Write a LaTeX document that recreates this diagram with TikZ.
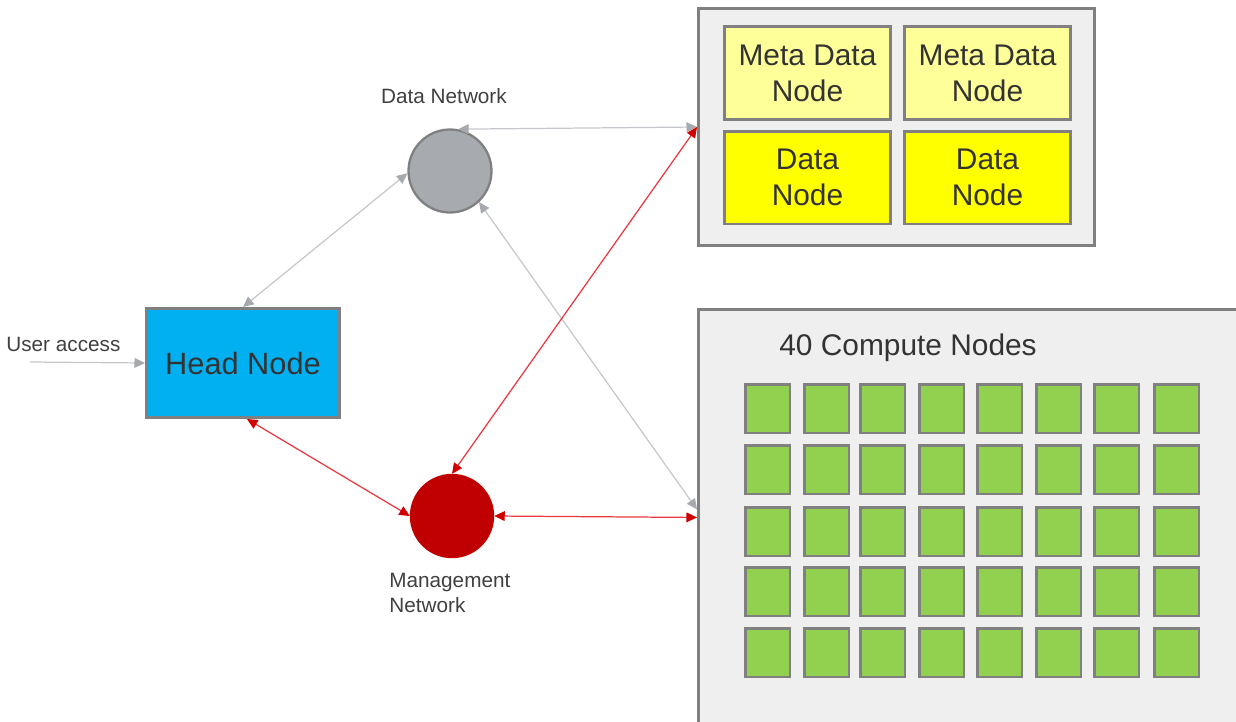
\documentclass[tikz,border=0pt]{standalone}
\usepackage{fontspec}
\setmainfont{Liberation Sans}
\usetikzlibrary{arrows.meta,calc}
\definecolor{boxgray}{HTML}{EFEFEF}
\definecolor{edgegray}{HTML}{808080}
\definecolor{metayellow}{HTML}{FFFF99}
\definecolor{datayellow}{HTML}{FFFF00}
\definecolor{headblue}{HTML}{00B0F0}
\definecolor{computegreen}{HTML}{92D050}
\definecolor{netgray}{HTML}{A7ABAF}
\definecolor{mgmtred}{HTML}{C00000}
\definecolor{linkgray}{HTML}{C4C8CC}
\definecolor{tipgray}{HTML}{A6AAAE}
\definecolor{linkred}{HTML}{E8383D}
\definecolor{tipred}{HTML}{D00000}
\definecolor{textdark}{HTML}{333333}
\definecolor{textlabel}{HTML}{404040}
\begin{document}
\begin{tikzpicture}[x=0.02cm,y=-0.02cm,
  bigtext/.style={font=\fontsize{17}{20.5}\selectfont, text=textdark, align=center},
  smalltext/.style={font=\fontsize{11.8}{14}\selectfont, text=textlabel, align=left, inner sep=0pt},
  panel/.style={draw=edgegray, line width=1.7pt, fill=boxgray, rectangle, inner sep=0pt},
  storebox/.style={draw=edgegray, line width=1.7pt, rectangle, inner sep=0pt,
    minimum width=3.32cm, minimum height=1.86cm, bigtext},
  cell/.style={draw=edgegray, line width=1.6pt, fill=computegreen, rectangle, inner sep=0pt,
    minimum width=0.89cm, minimum height=0.97cm},
  netnode/.style={circle, inner sep=0pt, minimum size=1.66cm},
  graylink/.style={draw=linkgray, line width=0.7pt,
    {Triangle[length=6pt,width=5.5pt,color=tipgray]}-{Triangle[length=6pt,width=5.5pt,color=tipgray]}},
  redlink/.style={draw=linkred, line width=0.7pt,
    {Triangle[length=6pt,width=5.5pt,color=tipred]}-{Triangle[length=6pt,width=5.5pt,color=tipred]}},
  inlink/.style={draw=linkgray, line width=0.7pt, -{Triangle[length=6pt,width=5.5pt,color=tipgray]}}
]
\useasboundingbox (0,0) rectangle (1236,721);

% storage panel with metadata and data nodes
\node[panel, minimum width=7.92cm, minimum height=4.74cm] (st) at (896.5,127) {};
\node[storebox, fill=metayellow] (md1) at (807.5,73) {Meta Data\\Node};
\node[storebox, fill=metayellow] (md2) at (987.5,73) {Meta Data\\Node};
\node[storebox, fill=datayellow] (dn1) at (807.5,177.5) {Data\\Node};
\node[storebox, fill=datayellow] (dn2) at (987.5,177.5) {Data\\Node};

% compute panel, running off the right and bottom edges
\node[panel, anchor=north west, minimum width=11.06cm, minimum height=8.32cm] (cb) at (697,308) {};
\node[bigtext, anchor=west, inner sep=0pt] (cbt) at (779,348) {40 Compute Nodes};
\foreach \c/\x in {1/743,2/802,3/858,4/917,5/975,6/1034,7/1092,8/1152}{
  \foreach \r/\y in {1/382,2/443,3/505,4/565,5/626}{
    \node[cell, anchor=north west] (c-\r-\c) at (\x+1,\y+1) {};
  }
}

% head node
\node[draw=edgegray, line width=1.7pt, fill=headblue, rectangle, inner sep=0pt,
  minimum width=3.86cm, minimum height=2.18cm, bigtext,
  font=\fontsize{17.5}{20.5}\selectfont] (head) at (243,363) {Head Node};
\node[smalltext, anchor=west] (ua) at (6,344) {User access};
\coordinate (uain) at (30,362);

% networks
\node[netnode, fill=netgray, draw=edgegray, line width=1.3pt] (dn) at (450,171) {};
\node[smalltext] (dnl) at (444,96) {Data Network};
\node[netnode, fill=mgmtred, draw=mgmtred, line width=0.8pt] (mn) at (452,516) {};
\node[smalltext, anchor=north west] (mnl) at (389,573) {Management\\Network};

% connectors
\coordinate (cbg) at ($(cb.west)+(0,-8)$);
\draw[inlink] (uain) -- (head.west);
\draw[graylink] (dn.79) -- (st.west);
\draw[graylink] (head.north) -- (dn.183);
\draw[graylink] (dn.-47) -- (cbg);
\draw[redlink] (mn.north) -- (st.west);
\draw[redlink] ($(head.south)+(4,0)$) -- (mn.west);
\draw[redlink] (mn.east) -- (cb.west);
\end{tikzpicture}
\end{document}
